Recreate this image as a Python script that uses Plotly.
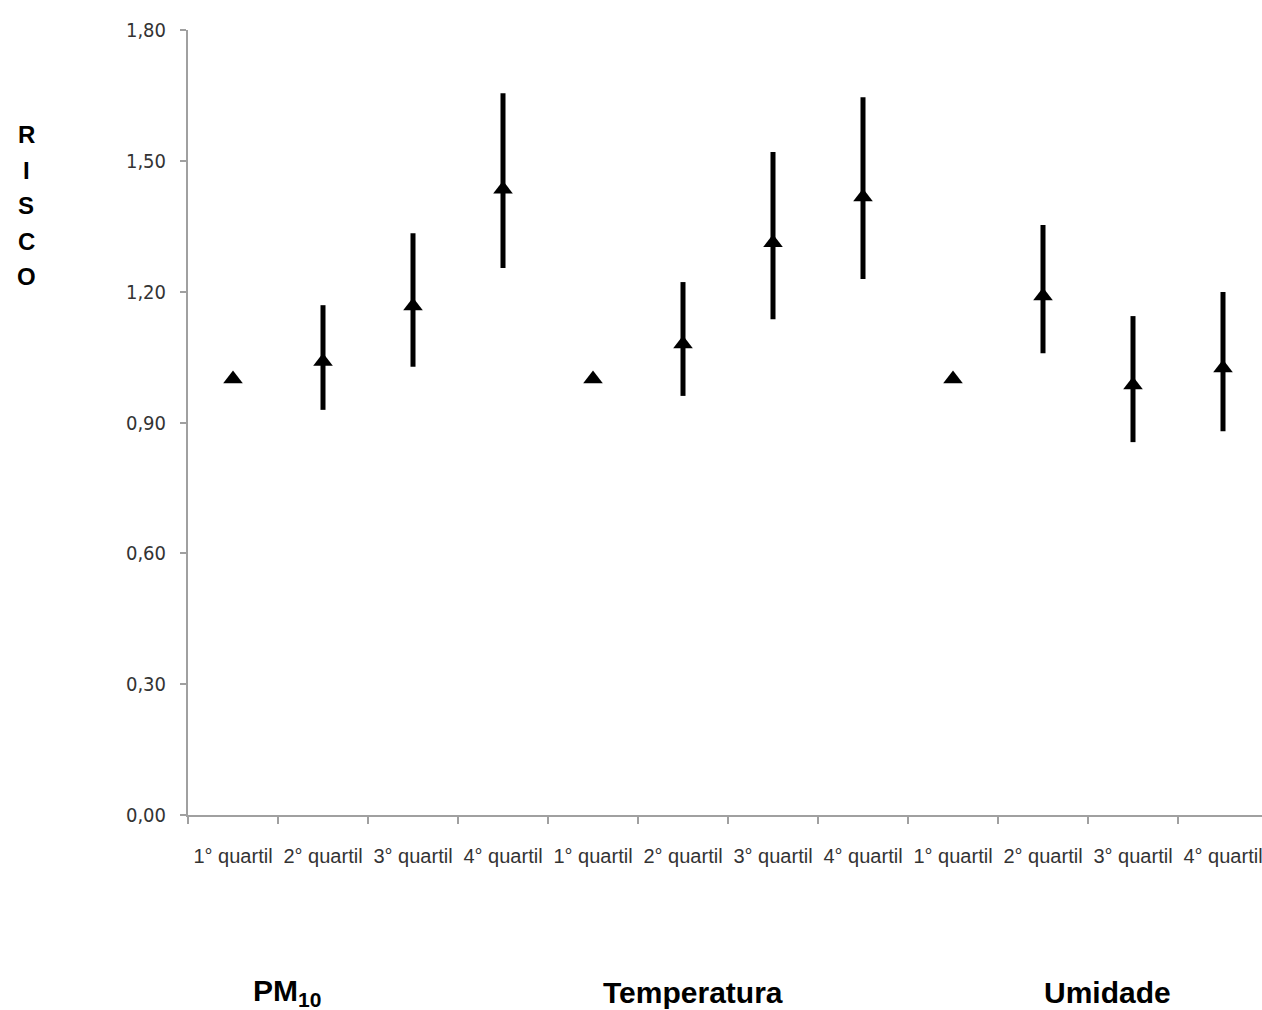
import plotly.graph_objects as go

# ---- data ----
categories = ["1° quartil", "2° quartil", "3° quartil", "4° quartil",
              "1° quartil", "2° quartil", "3° quartil", "4° quartil",
              "1° quartil", "2° quartil", "3° quartil", "4° quartil"]
groups = ["PM<sub>10</sub>", "Temperatura", "Umidade"]
risk = [1.00, 1.04, 1.167, 1.435,
        1.00, 1.08, 1.312, 1.417,
        1.00, 1.19, 0.986, 1.025]
upper = [1.00, 1.169, 1.334, 1.655,
         1.00, 1.222, 1.520, 1.646,
         1.00, 1.353, 1.144, 1.199]
lower = [1.00, 0.929, 1.028, 1.254,
         1.00, 0.961, 1.137, 1.229,
         1.00, 1.059, 0.855, 0.880]
y_ticks = [0.0, 0.3, 0.6, 0.9, 1.2, 1.5, 1.8]
y_title_letters = ["R", "I", "S", "C", "O"]

xs = list(range(len(categories)))
err_plus = [u - r for u, r in zip(upper, risk)]
err_minus = [r - l for r, l in zip(risk, lower)]

W, H = 1262, 1010
L, R, T, B = 188, 0, 30, 195
plot_w = W - L - R
plot_h = H - T - B

fig = go.Figure()
fig.add_trace(go.Scatter(
    x=xs, y=risk, mode="markers",
    marker=dict(symbol="triangle-up", size=17, color="black"),
    error_y=dict(type="data", symmetric=False, array=err_plus, arrayminus=err_minus,
                 color="black", thickness=5, width=0),
    showlegend=False, hoverinfo="skip",
))

axis_color = "#A0A0A0"
narrow = "Liberation Sans Narrow, DejaVu Sans Condensed, Arial Narrow, sans-serif"
regular = "Liberation Sans, Arial, sans-serif"

# x range: 90 px per category, plot clipped at the right edge
cat_px = 90.0
x_end = -0.5 + plot_w / cat_px

fig.update_layout(
    width=W, height=H,
    margin=dict(l=L, r=R, t=T, b=B, pad=0),
    paper_bgcolor="white", plot_bgcolor="white",
    separators=",.",
    xaxis=dict(
        range=[-0.5, x_end], tickmode="array", tickvals=xs, ticktext=categories,
        ticks="", showgrid=False, zeroline=False,
        showline=True, linecolor=axis_color, linewidth=2,
        tickfont=dict(family=regular, size=20, color="#333333"),
        ticklabelstandoff=22, ticklabeloverflow="allow",
        minor=dict(tick0=-0.5, dtick=1, ticks="outside", ticklen=7, tickcolor=axis_color,
                   tickwidth=2, showgrid=False),
    ),
    yaxis=dict(
        range=[0, 1.8], tickmode="array", tickvals=y_ticks, tickformat=".2f",
        ticks="outside", ticklen=6, tickcolor=axis_color, tickwidth=2,
        showgrid=False, zeroline=False,
        showline=True, linecolor=axis_color, linewidth=2,
        tickfont=dict(family=narrow, size=20, color="#333333"), ticklabelstandoff=10,
    ),
)

def px_to_paper_x(px):
    return (px - L) / plot_w

def px_to_paper_y(py):
    return (H - B - py) / plot_h

annotations = []
letter_y = [135, 171, 206, 241, 276]
for letter, py in zip(y_title_letters, letter_y):
    annotations.append(dict(
        text=letter, x=px_to_paper_x(26), y=px_to_paper_y(py),
        xref="paper", yref="paper", xanchor="center", yanchor="middle",
        showarrow=False,
        font=dict(family=regular, size=24, color="black", weight="bold"),
    ))

group_x = [287, 693, 1107]
for g, px in zip(groups, group_x):
    annotations.append(dict(
        text="<b>" + g + "</b>", x=px_to_paper_x(px), y=px_to_paper_y(992),
        xref="paper", yref="paper", xanchor="center", yanchor="middle",
        showarrow=False,
        font=dict(family=regular, size=30, color="black"),
    ))
fig.update_layout(annotations=annotations)

fig.write_html("out.html", config={"displayModeBar": False},
               post_script="document.body.style.margin='0';document.body.style.overflow='hidden';")
